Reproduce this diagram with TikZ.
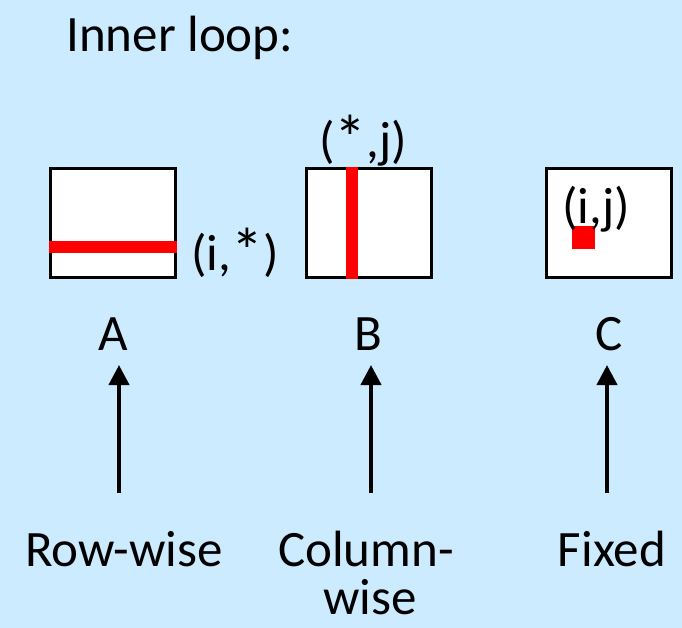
\documentclass[tikz,border=0pt]{standalone}
\usepackage{fontspec}
\setmainfont{Carlito}
\usetikzlibrary{arrows.meta,positioning}
\definecolor{slidebg}{HTML}{CCEBFF}
\definecolor{hitred}{HTML}{FF0000}
\newcommand{\bigast}{{\fontsize{64}{64}\selectfont\raisebox{-3pt}{*}}}

\begin{document}
\begin{tikzpicture}[
  x=1pt, y=-1pt,
  mat/.style={draw, line width=3pt, fill=white, minimum width=125pt, minimum height=108pt, inner sep=0pt},
  lbl/.style={anchor=base, inner sep=0pt, font=\fontsize{51}{59}\selectfont},
  arr/.style={-{Triangle[width=20pt,length=20pt]}, line width=4pt}
]
  \fill[slidebg] (0,0) rectangle (682,628);
  \useasboundingbox (0,0) rectangle (682,628);

  \node[lbl, anchor=base west] (title) at (66,52) {Inner loop:};

  % the three matrices
  \node[mat] (A) at (112.5,223) {};
  \node[mat] (B) at (369,223) {};
  \node[mat] (C) at (609,223) {};

  % accessed elements
  \fill[hitred] ([yshift=-18pt]A.west) rectangle ([yshift=-30pt]A.east);
  \fill[hitred] ([xshift=41pt]B.north west) rectangle ([xshift=53pt]B.south west);
  \fill[hitred] ([xshift=27pt,yshift=-59pt]C.north west) rectangle ([xshift=50pt,yshift=-82pt]C.north west);

  \node[lbl] (rowidx) at (235,270) {(i,\bigast)};
  \node[lbl] (colidx) at (363,158) {(\bigast,j)};
  \node[lbl] (elemidx) at (596,224) {(i,j)};

  \node[lbl] (nameA) at (113,350) {A};
  \node[lbl] (nameB) at (368,350) {B};
  \node[lbl] (nameC) at (609,350) {C};

  \node[lbl] (rowwise) at (124,566) {Row-wise};
  \node[lbl] (colwise) at (366,566) {Column-};
  \node[lbl] (colwise2) at (370,614) {wise};
  \node[lbl] (fixed) at (612,566) {Fixed};

  \coordinate (tipA) at (119,365);
  \coordinate (tipB) at (371,365);
  \coordinate (tipC) at (607,365);
  \draw[arr] (tipA |- 0,493) -- (tipA);
  \draw[arr] (tipB |- 0,493) -- (tipB);
  \draw[arr] (tipC |- 0,493) -- (tipC);
\end{tikzpicture}
\end{document}
